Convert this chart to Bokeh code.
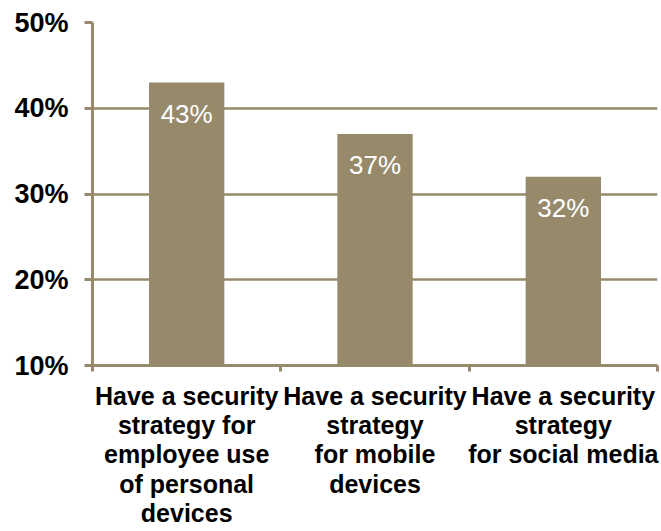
from bokeh.plotting import figure
from bokeh.models import FixedTicker
from bokeh.embed import file_html
from bokeh.resources import INLINE
from bokeh.core.properties import value

categories = [
    "Have a security\nstrategy for\nemployee use\nof personal\ndevices",
    "Have a security\nstrategy\nfor mobile\ndevices",
    "Have a security\nstrategy\nfor social media",
]
values = [43, 37, 32]
bar_labels = ["43%", "37%", "32%"]
y_ticks = [10, 20, 30, 40, 50]
y_tick_labels = ["10%", "20%", "30%", "40%", "50%"]

BAR = "#968A6A"
FONT = "Liberation Sans"

xs = [i + 0.5 for i in range(len(categories))]
bounds = [float(i) for i in range(len(categories) + 1)]

p = figure(width=661, height=531, x_range=(0, len(categories)), y_range=(y_ticks[0], y_ticks[-1]),
           output_backend="svg", toolbar_location=None,
           min_border_left=92, min_border_top=22, min_border_right=4, min_border_bottom=166)
p.outline_line_color = None
p.background_fill_color = "white"

p.vbar(x=xs, top=values, bottom=0, width=0.4, fill_color=BAR, line_color=None)
p.text(x=xs, y=values, text=bar_labels, text_color="white", text_font=value(FONT),
       text_font_size="26px", text_align="center", text_baseline="middle", y_offset=31)

p.xgrid.visible = False
p.ygrid.ticker = FixedTicker(ticks=y_ticks)
p.ygrid.grid_line_color = BAR
p.ygrid.grid_line_width = 2.5

ya = p.yaxis[0]
ya.ticker = FixedTicker(ticks=y_ticks)
ya.major_label_overrides = {t: l for t, l in zip(y_ticks, y_tick_labels)}
ya.axis_line_color = BAR
ya.axis_line_width = 3
ya.major_tick_line_color = BAR
ya.major_tick_line_width = 3
ya.major_tick_out = 8
ya.major_tick_in = 0
ya.minor_tick_line_color = None
ya.major_label_text_font = FONT
ya.major_label_text_font_size = "27px"
ya.major_label_text_font_style = "bold"
ya.major_label_text_color = "black"
ya.major_label_standoff = 16

xa = p.xaxis[0]
xa.ticker = FixedTicker(ticks=xs, minor_ticks=bounds)
xa.major_label_overrides = {t: l for t, l in zip(xs, categories)}
xa.axis_line_color = BAR
xa.axis_line_width = 3
xa.major_tick_line_color = None
xa.minor_tick_line_color = BAR
xa.minor_tick_line_width = 3
xa.minor_tick_out = 6
xa.minor_tick_in = 0
xa.major_label_text_font = FONT
xa.major_label_text_font_size = "25px"
xa.major_label_text_font_style = "bold"
xa.major_label_text_color = "black"
xa.major_label_text_line_height = 1.05
xa.major_label_standoff = 10

open("out.html", "w").write(file_html(p, INLINE))
